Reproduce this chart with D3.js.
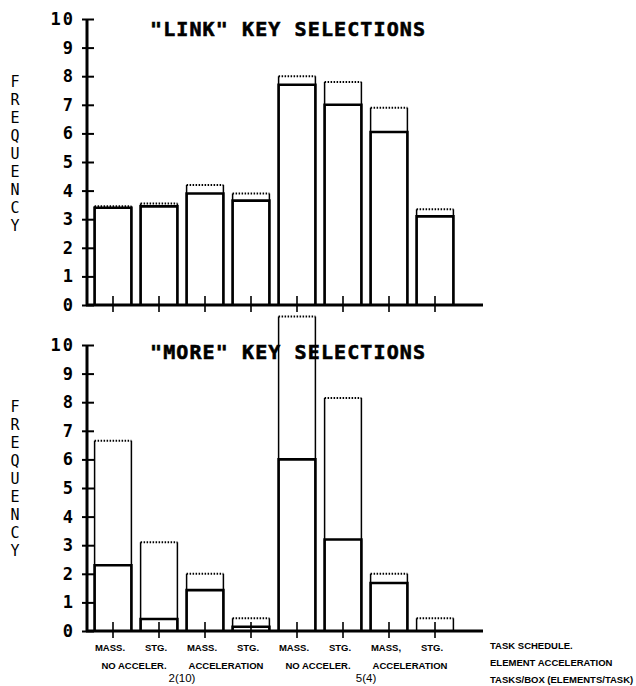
<!DOCTYPE html>
<html>
<head>
<meta charset="utf-8">
<script src="https://cdn.jsdelivr.net/npm/d3@7"></script>
<style>
  body { margin: 0; background: #fff; }
  svg { display: block; }
</style>
</head>
<body>
<svg id="chart" width="636" height="686"></svg>
<script>
// task schedule per bar, acceleration per pair, tasks/box per group of four
const categories = ["MASS.", "STG.", "MASS.", "STG.", "MASS.", "STG.", "MASS,", "STG."];
const accelLabels = ["NO ACCELER.", "ACCELERATION", "NO ACCELER.", "ACCELERATION"];
const taskLabels = ["2(10)", "5(4)"];
const legendLines = ["TASK SCHEDULE.", "ELEMENT ACCELERATION", "TASKS/BOX (ELEMENTS/TASK)"];
const yTicks = [0, 1, 2, 3, 4, 5, 6, 7, 8, 9, 10];

// "LINK" key selections: solid line and dotted top
const linkSolid = [3.4, 3.45, 3.9, 3.65, 7.7, 7.0, 6.05, 3.1];
const linkDotted = [3.45, 3.55, 4.2, 3.9, 8.0, 7.8, 6.9, 3.35];

// "MORE" key selections
const moreSolid = [2.3, 0.42, 1.43, 0.15, 6.0, 3.2, 1.68, 0];
const moreDotted = [6.65, 3.1, 2.0, 0.45, 11.0, 8.15, 2.0, 0.45];

const svg = d3.select("#chart");
const mono = "'DejaVu Sans Mono', monospace";
const sans = "'Liberation Sans', Arial, sans-serif";

const x = d3.scaleBand()
  .domain(d3.range(categories.length))
  .range([90, 458])
  .paddingInner(0.2)
  .paddingOuter(0.1);

const axisX = 87;
const baseEnd = 483;

function drawPanel(title, solid, dotted, y0, y10, titleY, freqTop) {
  const y = d3.scaleLinear().domain([0, 10]).range([y0, y10]);
  const g = svg.append("g");

  // title
  g.append("text")
    .attr("x", 150).attr("y", titleY)
    .attr("font-family", mono).attr("font-weight", "bold")
    .attr("font-size", 20)
    .attr("stroke", "#000").attr("stroke-width", 0.6)
    .attr("textLength", 275).attr("lengthAdjust", "spacing")
    .text(title);

  // stacked FREQUENCY label
  g.append("g").selectAll("text")
    .data("FREQUENCY".split(""))
    .join("text")
    .attr("x", 15)
    .attr("y", (d, i) => freqTop + 12 + i * 18)
    .attr("text-anchor", "middle")
    .attr("font-family", mono).attr("font-size", 15)
    .text(d => d);

  // y axis
  const ax = g.append("g")
    .attr("transform", `translate(${axisX},0)`)
    .call(d3.axisLeft(y).tickValues(yTicks).tickSize(6).tickPadding(6).tickFormat(d3.format("d")));
  ax.select(".domain").remove();
  ax.selectAll(".tick line")
    .attr("x1", -5).attr("x2", 7)
    .attr("stroke", "#000").attr("stroke-width", 2);
  ax.selectAll(".tick text")
    .attr("font-family", mono).attr("font-weight", "bold")
    .attr("font-size", 17).attr("letter-spacing", 2)
    .attr("fill", "#000");
  g.append("line")
    .attr("x1", axisX).attr("x2", axisX)
    .attr("y1", y(10)).attr("y2", y(0) + 1)
    .attr("stroke", "#000").attr("stroke-width", 3);

  // baseline
  g.append("line")
    .attr("x1", axisX - 1).attr("x2", baseEnd)
    .attr("y1", y(0)).attr("y2", y(0))
    .attr("stroke", "#000").attr("stroke-width", 3);

  const bars = g.append("g").selectAll("g")
    .data(d3.range(categories.length))
    .join("g");

  // dotted range: thin sides, dotted top; solid range: thick box
  bars.each(function (i) {
    const b = d3.select(this);
    const l = x(i), r = x(i) + x.bandwidth();
    b.append("path")
      .attr("d", `M${l},${y(0)}V${y(dotted[i])}M${r},${y(0)}V${y(dotted[i])}`)
      .attr("stroke", "#000").attr("stroke-width", 1.5).attr("fill", "none");
    b.append("line")
      .attr("x1", l).attr("x2", r)
      .attr("y1", y(dotted[i])).attr("y2", y(dotted[i]))
      .attr("stroke", "#000").attr("stroke-width", 2)
      .attr("stroke-dasharray", "1.5,1.5");
    if (solid[i] > 0) {
      b.append("path")
        .attr("d", `M${l},${y(0)}V${y(solid[i])}H${r}V${y(0)}`)
        .attr("stroke", "#000").attr("stroke-width", 2.6).attr("fill", "none");
    }
    // centre tick on the baseline
    b.append("line")
      .attr("x1", x(i) + x.bandwidth() / 2).attr("x2", x(i) + x.bandwidth() / 2)
      .attr("y1", y(0) - 9).attr("y2", y(0) + 7)
      .attr("stroke", "#000").attr("stroke-width", 1.6);
  });
  return y;
}

drawPanel("\"LINK\" KEY SELECTIONS", linkSolid, linkDotted, 305, 19, 36, 75);
drawPanel("\"MORE\" KEY SELECTIONS", moreSolid, moreDotted, 631, 345, 359, 400);

// category labels under the lower panel
const cx = i => x(i) + x.bandwidth() / 2;
svg.append("g").selectAll("text")
  .data(categories)
  .join("text")
  .attr("x", (d, i) => cx(i) - 3)
  .attr("y", 651)
  .attr("text-anchor", "middle")
  .attr("font-family", sans).attr("font-weight", "bold").attr("font-size", 9.5)
  .text(d => d);

svg.append("g").selectAll("text")
  .data(accelLabels)
  .join("text")
  .attr("x", (d, i) => (cx(2 * i) + cx(2 * i + 1)) / 2 - 2)
  .attr("y", 669)
  .attr("text-anchor", "middle")
  .attr("font-family", sans).attr("font-weight", "bold").attr("font-size", 9.5)
  .text(d => d);

svg.append("g").selectAll("text")
  .data(taskLabels)
  .join("text")
  .attr("x", (d, i) => (cx(4 * i) + cx(4 * i + 3)) / 2)
  .attr("y", 682)
  .attr("text-anchor", "middle")
  .attr("font-family", sans).attr("font-size", 11.5)
  .text(d => d);

svg.append("g").selectAll("text")
  .data(legendLines)
  .join("text")
  .attr("x", 490)
  .attr("y", (d, i) => 649 + i * 17)
  .attr("font-family", sans).attr("font-weight", "bold").attr("font-size", 9.5)
  .text(d => d);
</script>
</body>
</html>
